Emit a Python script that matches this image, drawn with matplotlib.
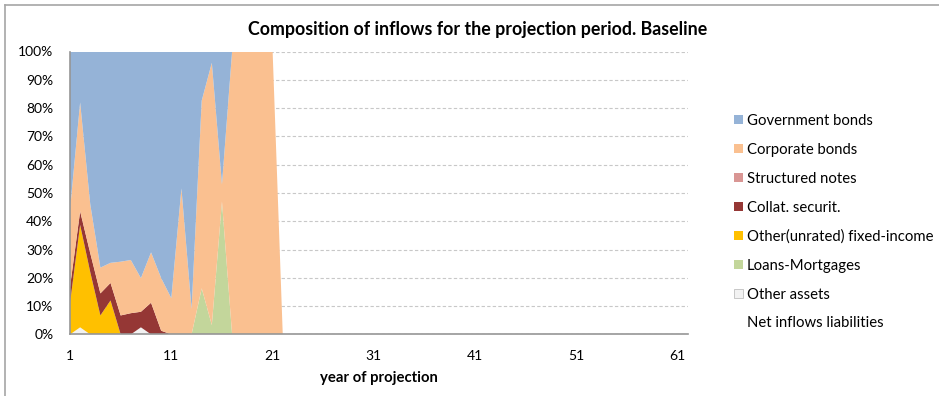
import numpy as np
import matplotlib.pyplot as plt
from matplotlib.patches import Patch
from matplotlib.lines import Line2D

# ---- Data (share of inflows, %, by year of projection) ---------------------

years = np.arange(1, 63)
n_tail = len(years) - 21

other_assets = [0, 2.5, 0, 0, 0, 0, 0, 2.5, 0, 0,
                0, 0, 0, 0, 0, 0, 0, 0, 0, 0, 0] + [0] * n_tail
loans_mortgages = [0, 0, 0, 0, 0, 0, 0, 0, 0, 0,
                   0, 0, 0, 16.3, 3.3, 47, 0, 0, 0, 0, 0] + [0] * n_tail
other_unrated = [11, 36.2, 22, 6.7, 12, 0, 0, 0, 0, 0,
                 0, 0, 0, 0, 0, 0, 0, 0, 0, 0, 0] + [0] * n_tail
collat_securit = [5.7, 4.8, 6.7, 7.8, 6.2, 6.7, 7.5, 5.5, 11.2, 1.3,
                  0, 0, 0, 0, 0, 0, 0, 0, 0, 0, 0] + [0] * n_tail
structured_notes = [0] * 21 + [0] * n_tail
corporate_bonds = [27.3, 38.5, 17.3, 9.1, 7.1, 19, 18.8, 11.9, 17.8, 18.6,
                   12.8, 51.6, 9, 66.3, 92.7, 6, 100, 100, 100, 100, 100] + [0] * n_tail
government_bonds = [56, 18, 54, 76.4, 74.7, 74.3, 73.7, 80.1, 71, 80.1,
                    87.2, 48.4, 91, 17.4, 4, 47, 0, 0, 0, 0, 0] + [0] * n_tail

x_ticks = [1, 11, 21, 31, 41, 51, 61]
y_ticks = list(range(0, 101, 10))

C_GOV = "#95B3D7"
C_CORP = "#FAC090"
C_STRUCT = "#D99694"
C_COLLAT = "#953735"
C_UNRATED = "#FFC000"
C_LOANS = "#C3D69B"
C_OTHER = "#F2F2F2"

plt.rcParams["font.family"] = ["Lato", "DejaVu Sans"]

fig = plt.figure(figsize=(9.39, 3.96), dpi=100)
ax = fig.add_axes([70 / 939, 1 - 334.4 / 396, (688 - 70) / 939, (334.4 - 51.5) / 396])

ax.stackplot(years,
             other_assets, loans_mortgages, other_unrated, collat_securit,
             structured_notes, corporate_bonds, government_bonds,
             colors=[C_OTHER, C_LOANS, C_UNRATED, C_COLLAT, C_STRUCT, C_CORP, C_GOV],
             linewidth=0)

ax.set_xlim(1, 62)
ax.set_ylim(0, 100)
ax.set_xticks(x_ticks)
ax.set_xticklabels([str(t) for t in x_ticks])
ax.set_yticks(y_ticks)
ax.set_yticklabels([f"{t}%" for t in y_ticks])
ax.tick_params(axis="both", length=0, labelsize=10, colors="#000000")
ax.tick_params(axis="y", pad=12)
ax.tick_params(axis="x", pad=11)

ax.set_axisbelow(True)
ax.yaxis.grid(True, color="#C8C8C8", linestyle=(0, (3, 2)), linewidth=0.8)
for s in ["top", "right"]:
    ax.spines[s].set_visible(False)
for s in ["left", "bottom"]:
    ax.spines[s].set_color("#969696")
    ax.spines[s].set_linewidth(1.2)
ax.set_xlabel("year of projection", fontsize=10.7, fontweight="bold", labelpad=7)

fig.text(478 / 939, 1 - 30 / 396, "Composition of inflows for the projection period. Baseline",
         ha="center", va="center", fontsize=12.8, fontweight="bold")

handles = [
    Patch(facecolor=C_GOV, label="Government bonds"),
    Patch(facecolor=C_CORP, label="Corporate bonds"),
    Patch(facecolor=C_STRUCT, label="Structured notes"),
    Patch(facecolor=C_COLLAT, label="Collat. securit."),
    Patch(facecolor=C_UNRATED, label="Other(unrated) fixed-income"),
    Patch(facecolor=C_LOANS, label="Loans-Mortgages"),
    Patch(facecolor=C_OTHER, edgecolor="#BFBFBF", linewidth=0.6, label="Other assets"),
    Line2D([], [], linestyle="none", label="Net inflows liabilities"),
]
fig.legend(handles=handles, loc="upper left",
           bbox_to_anchor=(734 / 939, 1 - 114 / 396),
           frameon=False, fontsize=10.7, handlelength=0.6, handleheight=0.6,
           handletextpad=0.28, labelspacing=1.0, borderpad=0, borderaxespad=0)

# chart frame (top and left edges visible)
fig.add_artist(Line2D([5 / 939, 5 / 939], [0, 1 - 5 / 396], color="#A6A6A6", linewidth=1.2))
fig.add_artist(Line2D([5 / 939, 1], [1 - 5 / 396, 1 - 5 / 396], color="#A6A6A6", linewidth=1.2))

fig.savefig("out.png", dpi=100)
